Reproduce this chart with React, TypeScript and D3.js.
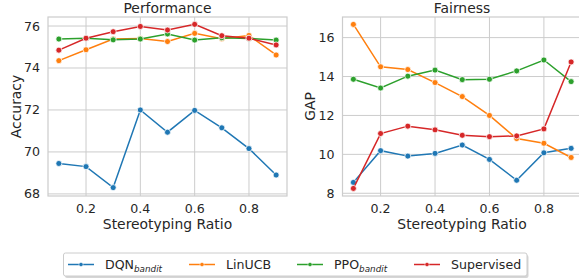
import React from "react";
import * as d3 from "d3";

const ratios = [0.1, 0.2, 0.3, 0.4, 0.5, 0.6, 0.7, 0.8, 0.9];
const xTicks = [0.2, 0.4, 0.6, 0.8];

const seriesNames = ["DQN", "LinUCB", "PPO", "Supervised"];
const seriesSubs = ["bandit", "", "bandit", ""];
const colors = ["#1f77b4", "#ff7f0e", "#2ca02c", "#d62728"];

const perfDQN = [69.45, 69.3, 68.3, 72.0, 70.94, 71.98, 71.15, 70.16, 68.9];
const perfLinUCB = [74.35, 74.87, 75.38, 75.41, 75.26, 75.65, 75.39, 75.55, 74.62];
const perfPPO = [75.38, 75.42, 75.34, 75.38, 75.62, 75.33, 75.44, 75.41, 75.33];
const perfSup = [74.85, 75.42, 75.73, 75.98, 75.81, 76.08, 75.54, 75.42, 75.1];

const fairDQN = [8.56, 10.19, 9.91, 10.05, 10.48, 9.74, 8.67, 10.08, 10.31];
const fairLinUCB = [16.68, 14.5, 14.36, 13.69, 12.97, 12.0, 10.81, 10.57, 9.84];
const fairPPO = [13.86, 13.41, 14.02, 14.33, 13.84, 13.86, 14.29, 14.85, 13.74];
const fairSup = [8.25, 11.07, 11.45, 11.26, 10.98, 10.91, 10.95, 11.31, 14.75];

const perfTicks = [68, 70, 72, 74, 76];
const fairTicks = [8, 10, 12, 14, 16];

const TEXT = "#262626";
const GRID = "#cccccc";
const FONT = "DejaVu Sans";

type PanelProps = {
  left: number;
  right: number;
  title: string;
  ylabel: string;
  ylabelX: number;
  data: number[][];
  yDomain: [number, number];
  yTicks: number[];
};

function Panel({ left, right, title, ylabel, ylabelX, data, yDomain, yTicks }: PanelProps) {
  const top = 17;
  const bottom = 196;
  const x = d3.scaleLinear().domain([0.06, 0.94]).range([left, right]);
  const y = d3.scaleLinear().domain(yDomain).range([bottom, top]);
  const line = d3
    .line<number>()
    .x((_, i) => x(ratios[i]))
    .y((d) => y(d));
  return (
    <g>
      <rect x={left} y={top} width={right - left} height={bottom - top} fill="white" />
      {xTicks.map((t) => (
        <line key={"gx" + t} x1={x(t)} x2={x(t)} y1={top} y2={bottom} stroke={GRID} strokeWidth={1} />
      ))}
      {yTicks.map((t) => (
        <line key={"gy" + t} x1={left} x2={right} y1={y(t)} y2={y(t)} stroke={GRID} strokeWidth={1} />
      ))}
      <rect x={left} y={top} width={right - left} height={bottom - top} fill="none" stroke={GRID} strokeWidth={1.2} />
      {data.map((vals, si) => (
        <g key={"s" + si}>
          <path d={line(vals) || ""} fill="none" stroke={colors[si]} strokeWidth={1.5} />
          {vals.map((v, i) => (
            <circle key={i} cx={x(ratios[i])} cy={y(v)} r={3} fill={colors[si]} stroke="white" strokeWidth={0.75} />
          ))}
        </g>
      ))}
      {xTicks.map((t) => (
        <text key={"tx" + t} x={x(t)} y={213} textAnchor="middle" fontSize={12.6} fill={TEXT} fontFamily={FONT}>
          {t.toFixed(1)}
        </text>
      ))}
      {yTicks.map((t) => (
        <text key={"ty" + t} x={left - 8} y={y(t) + 4.5} textAnchor="end" fontSize={12.6} fill={TEXT} fontFamily={FONT}>
          {t}
        </text>
      ))}
      <text x={(left + (left + 239)) / 2} y={13} textAnchor="middle" fontSize={13.9} fill={TEXT} fontFamily={FONT}>
        {title}
      </text>
      <text x={(left + (left + 239)) / 2} y={229} textAnchor="middle" fontSize={13.9} fill={TEXT} fontFamily={FONT}>
        Stereotyping Ratio
      </text>
      <text
        transform={`translate(${ylabelX},${(top + bottom) / 2}) rotate(-90)`}
        textAnchor="middle"
        fontSize={13.9}
        fill={TEXT}
        fontFamily={FONT}
      >
        {ylabel}
      </text>
    </g>
  );
}

export default function App() {
  const legendX = [68, 189, 297, 414];
  const ly = 264.5;
  return (
    <svg
      width={579}
      height={280}
      style={{ position: "absolute", left: 0, top: 0, background: "white" }}
      fontFamily={FONT}
    >
      <rect width={579} height={280} fill="white" />
      <Panel
        left={48}
        right={287}
        title="Performance"
        ylabel="Accuracy"
        ylabelX={21}
        data={[perfDQN, perfLinUCB, perfPPO, perfSup]}
        yDomain={[67.9, 76.43]}
        yTicks={perfTicks}
      />
      <Panel
        left={342.5}
        right={582}
        title="Fairness"
        ylabel="GAP"
        ylabelX={315}
        data={[fairDQN, fairLinUCB, fairPPO, fairSup]}
        yDomain={[7.86, 17.06]}
        yTicks={fairTicks}
      />
      <g>
        <rect x={65} y={255} width={463.5} height={23} rx={2} fill="#999" opacity={0.4} />
        <rect x={63.5} y={253} width={463.5} height={23} rx={2} fill="white" stroke={GRID} strokeWidth={1} />
        {seriesNames.map((n, i) => (
          <g key={n}>
            <line x1={legendX[i]} x2={legendX[i] + 26} y1={ly} y2={ly} stroke={colors[i]} strokeWidth={1.5} />
            <circle cx={legendX[i] + 13} cy={ly} r={2.1} fill={colors[i]} stroke="white" strokeWidth={0.5} />
            <text x={legendX[i] + 37} y={ly + 4.5} fontSize={12.6} fill={TEXT} fontFamily={FONT}>
              {n}
              {seriesSubs[i] ? (
                <tspan fontSize={8.8} fontStyle="italic" dy={2.5}>
                  {seriesSubs[i]}
                </tspan>
              ) : null}
            </text>
          </g>
        ))}
      </g>
    </svg>
  );
}
